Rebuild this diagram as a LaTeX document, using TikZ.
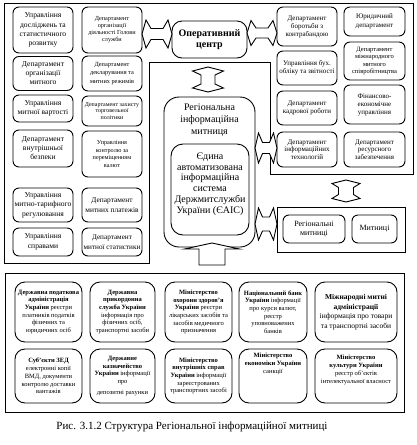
\documentclass[tikz,border=0pt]{standalone}
\usepackage{fontspec}
\setmainfont{Liberation Serif}
\newcommand\fsz[2]{\fontsize{#1}{#2}\selectfont}
% horizontal double block arrow: x1 x2 yc shafthalf headhalf corner-offset shaft-offset
\newcommand\hdarr[7]{%
\draw[blk] (#1,#3) -- (#1+#6,#3-#5) -- (#1+#7,#3-#4) -- (#2-#7,#3-#4) -- (#2-#6,#3-#5) -- (#2,#3) -- (#2-#6,#3+#5) -- (#2-#7,#3+#4) -- (#1+#7,#3+#4) -- (#1+#6,#3+#5) -- cycle;}
% vertical double block arrow: y1 y2 xc shafthalf headhalf corner-offset shaft-offset
\newcommand\vdarr[7]{%
\draw[blk] (#3,#1) -- (#3+#5,#1+#6) -- (#3+#4,#1+#7) -- (#3+#4,#2-#7) -- (#3+#5,#2-#6) -- (#3,#2) -- (#3-#5,#2-#6) -- (#3-#4,#2-#7) -- (#3-#4,#1+#7) -- (#3-#5,#1+#6) -- cycle;}
\tikzset{
  bx/.style={draw, line width=0.9pt, rounded corners=6pt, align=center, inner sep=0.5pt},
  bbx/.style={draw, line width=0.9pt, rounded corners=10pt, align=center, inner sep=0.5pt},
  frame/.style={draw, line width=0.9pt},
  blk/.style={draw, line width=0.9pt, fill=white, line join=miter},
  txt/.style={align=center, inner sep=0pt},
}
\begin{document}
\begin{tikzpicture}[x=1pt, y=-1pt]
\useasboundingbox (0,0) rectangle (416,445);
% outer frame
\draw[frame] (4,3) -- (413,3) -- (413,174) -- (270,174) -- (270,62) -- (149,62) -- (149,263) -- (4,263) -- cycle;
% left panel col 1
\node[bx, minimum width=60pt, minimum height=46pt, font=\fsz{7.6}{9.3}] (l11) at (43,30) {Управління\\досліджень та\\статистичного\\розвитку};
\node[bx, minimum width=60pt, minimum height=34pt, font=\fsz{7.6}{9}] (l21) at (43,73.5) {Департамент\\організації\\митного};
\node[bx, minimum width=60pt, minimum height=27pt, font=\fsz{7.6}{9.5}] (l31) at (43,108.5) {Управління\\митної вартості};
\node[bx, minimum width=60pt, minimum height=37pt, font=\fsz{7.6}{9}] (l41) at (43,148.5) {Департамент\\внутрішньої\\безпеки};
\node[bx, minimum width=60pt, minimum height=34pt, font=\fsz{7.6}{9.5}] (l51) at (43,205) {Управління\\митно-тарифного\\регулювання};
\node[bx, minimum width=60pt, minimum height=28pt, font=\fsz{7.6}{9.5}] (l61) at (43,242) {Управління\\справами};
% left panel col 2
\node[bx, minimum width=60pt, minimum height=46pt, font=\fsz{6.2}{7}] (l12) at (112,30) {Департамент\\організації\\діяльності Голови\\служби};
\node[bx, minimum width=60pt, minimum height=35pt, font=\fsz{6.3}{8.5}] (l22) at (112,73.5) {Департамент\\декларування та\\митних режимів};
\node[bx, minimum width=60pt, minimum height=30pt, font=\fsz{6}{6.8}] (l32) at (112,111) {Департамент захисту\\торговельної\\політики};
\node[bx, minimum width=60pt, minimum height=46pt, font=\fsz{6.2}{7.5}] (l42) at (112,154) {Управління\\контролю за\\переміщенням\\валют};
\node[bx, minimum width=60pt, minimum height=34pt, font=\fsz{7.4}{10}] (l52) at (112,205) {Департамент\\митних платежів};
\node[bx, minimum width=60pt, minimum height=28pt, font=\fsz{7.2}{10}] (l62) at (112,242) {Департамент\\митної статистики};
% right panel col 1
\node[bx, minimum width=60pt, minimum height=39pt, font=\fsz{7}{8}] (r11) at (307,26.5) {Департамент\\боротьби з\\контрабандою};
\node[bx, minimum width=60pt, minimum height=34pt, font=\fsz{7}{8}] (r21) at (307,68) {Управління бух.\\обліку та звітності};
\node[bx, minimum width=60pt, minimum height=34pt, font=\fsz{7}{8.5}] (r31) at (307,108) {Департамент\\кадрової роботи};
\node[bx, minimum width=60pt, minimum height=35pt, font=\fsz{7}{7.5}] (r41) at (307,149.5) {Департамент\\інформаційних\\технологій};
% right panel col 2
\node[bx, minimum width=61pt, minimum height=29pt, font=\fsz{7}{9}] (r12) at (374.5,21.5) {Юридичний\\департамент};
\node[bx, minimum width=61pt, minimum height=38pt, font=\fsz{6.5}{7.5}] (r22) at (374.5,61) {Департамент\\міжнародного\\митного\\співробітництва};
\node[bx, minimum width=61pt, minimum height=39pt, font=\fsz{7}{8}] (r32) at (374.5,104.5) {Фінансово-\\економічне\\управління};
\node[bx, minimum width=61pt, minimum height=35pt, font=\fsz{7}{7.5}] (r42) at (374.5,149.5) {Департамент\\ресурсного\\забезпечення};
% centre
\node[bbx, minimum width=75pt, minimum height=37pt, font=\bfseries\fsz{10}{11.7}] (op) at (209.5,39.5) {Оперативний\\центр};
\node[draw, line width=0.9pt, rounded corners=15pt, minimum width=91pt, minimum height=150pt] (rim) at (209.5,172) {};
\node[txt, font=\fsz{10}{12}] (rimt) at (209.5,120) {Регіональна\\інформаційна\\митниця};
\node[draw, line width=0.9pt, rounded corners=12pt, minimum width=78pt, minimum height=91pt] (eais) at (210,189.5) {};
\node[txt, font=\fsz{10}{10.8}] (eaist) at (210,184) {Єдина\\автоматизована\\інформаційна\\система\\Держмитслужби\\України (ЄАІС)};
% regional panel
\node[draw, line width=0.9pt, minimum width=128pt, minimum height=45pt] (rp) at (341,229.5) {};
\node[bx, minimum width=62pt, minimum height=28pt, font=\fsz{8}{9.5}] (rm1) at (314,229) {Регіональні\\митниці};
\node[bx, minimum width=45pt, minimum height=28pt, font=\fsz{8}{9.5}] (rm2) at (374.5,229) {Митниці};
% bottom panel
\node[draw, line width=0.9pt, minimum width=399pt, minimum height=139pt] (bp) at (204.5,342.5) {};
\node[bbx, minimum width=67pt, minimum height=60pt, font=\fsz{6.5}{7.7}] (b11) at (48.5,312) {\textbf{Державна податкова}\\\textbf{адміністрація}\\\textbf{України} реєстри\\платників податків\\фізичних та\\юридичних осіб};
\node[bbx, minimum width=65pt, minimum height=60pt, font=\fsz{6.5}{7.7}] (b12) at (122.5,312) {\textbf{Державна}\\\textbf{прикордонна}\\\textbf{служба України}\\інформація про\\фізичних осіб,\\транспортні засоби};
\node[bbx, minimum width=67pt, minimum height=60pt, font=\fsz{6.5}{7.7}] (b13) at (198.5,312) {\textbf{Міністерство}\\\textbf{охорони здоров'я}\\\textbf{України} реєстри\\лікарських засобів та\\засобів медичного\\призначення};
\node[bbx, minimum width=68pt, minimum height=60pt, font=\fsz{6.5}{7.7}] (b14) at (273,312) {\textbf{Національний банк}\\\textbf{України} інформації\\про курси валют,\\реєстр\\уповноважених\\банків};
\node[bbx, minimum width=82pt, minimum height=60pt, font=\fsz{7.5}{9.5}] (b15) at (356,312) {\textbf{Міжнародні митні}\\\textbf{адміністрації}\\інформація про товари\\та транспортні засоби};
\node[bbx, minimum width=67pt, minimum height=54pt, font=\fsz{6.5}{7.7}] (b21) at (48.5,376) {\textbf{Суб'єкти ЗЕД}\\електронні копії\\ВМД, документи\\контролю доставки\\вантажів};
\node[bbx, minimum width=65pt, minimum height=54pt, font=\fsz{6.5}{7.7}] (b22) at (122.5,376) {\textbf{Державне}\\\textbf{казначейство}\\\textbf{України} інформації\\про\\[3pt]депозитні рахунки};
\node[bbx, minimum width=67pt, minimum height=54pt, font=\fsz{6.5}{7.7}] (b23) at (198.5,376) {\textbf{Міністерство}\\\textbf{внутрішніх справ}\\\textbf{України} інформації\\зареєстрованих\\транспортних засобі};
\node[bbx, minimum width=68pt, minimum height=54pt] (b24) at (273,376) {};
\node[txt, font=\fsz{6.5}{7.7}] (b24t) at (273,364) {\textbf{Міністерство}\\\textbf{економіки України}\\санкції};
\node[bbx, minimum width=82pt, minimum height=54pt] (b25) at (356,376) {};
\node[txt, font=\fsz{6.5}{8}] (b25t) at (356,370) {\textbf{Міністерство}\\\textbf{культури України}\\реєстр об'єктів\\інтелектуальної власност};
% block arrows
\hdarr{142}{172}{34}{5.5}{14}{4}{9}
\hdarr{247}{277}{33}{5}{12.5}{4}{9}
\vdarr{67}{92}{208}{7}{15.5}{4}{8}
\hdarr{255}{277}{148}{5.5}{15}{3.5}{7.5}
\hdarr{255}{277}{224}{7}{16}{3.5}{7.5}
\vdarr{180}{202}{346}{7.5}{14}{3.5}{7.5}
\draw[blk] (212,243) -- (239.5,249) -- (225,249) -- (225,265) -- (199,265) -- (199,249) -- (184.5,249) -- cycle;
% caption
\node[txt, font=\fsz{11}{13}] (cap) at (192,427) {Рис. 3.1.2 Структура Регіональної інформаційної митниці};
\end{tikzpicture}
\end{document}
